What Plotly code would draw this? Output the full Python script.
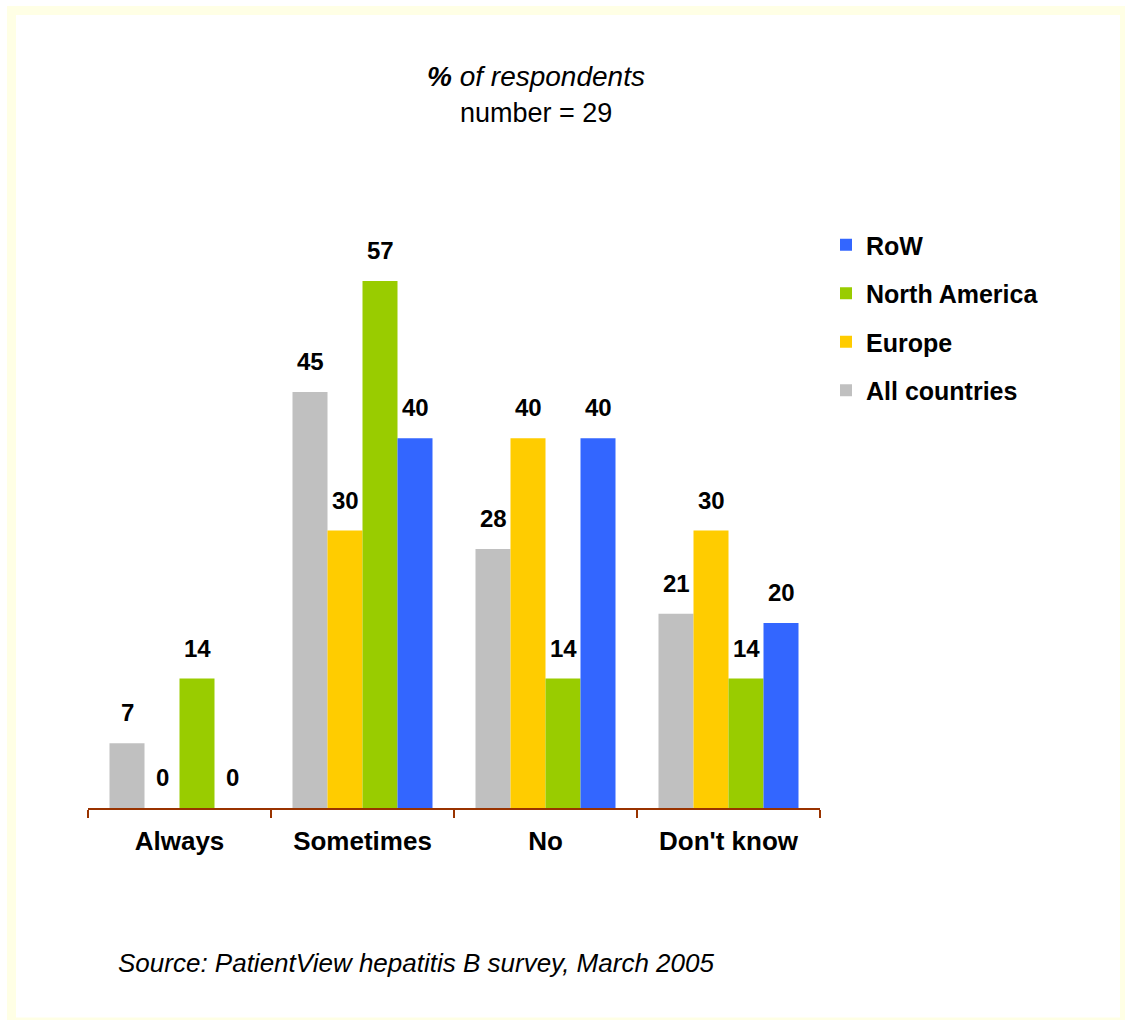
import plotly.graph_objects as go

categories = ["Always", "Sometimes", "No", "Don't know"]
series_names = ["All countries", "Europe", "North America", "RoW"]
all_countries = [7, 45, 28, 21]
europe = [0, 30, 40, 30]
north_america = [14, 57, 14, 14]
row = [0, 40, 40, 20]
series_values = [all_countries, europe, north_america, row]
colors = ["#C0C0C0", "#FFCC00", "#99CC00", "#3366FF"]

W, H = 1125, 1020
L, R, T, B = 88, 820, 150, 808
BARGAP = 0.235
YMAX = (B - T) / 9.246
FONT = "Liberation Sans, Arial, sans-serif"

def px(x):
    return (x - L) / (R - L)

def py(y):
    return (B - y) / (B - T)

fig = go.Figure()
nser = len(series_values)
for j, (name, vals, col) in enumerate(zip(series_names, series_values, colors)):
    fig.add_trace(go.Bar(
        x=categories, y=vals, name=f"<b>{name}</b>", marker=dict(color=col, line=dict(width=0)),
        legendgroup=name, legendrank=nser - j, hoverinfo="skip",
    ))

annotations = []
w = (1 - BARGAP) / nser
for j, vals in enumerate(series_values):
    for i, v in enumerate(vals):
        annotations.append(dict(
            x=i + (j - (nser - 1) / 2) * w, y=v, xref="x", yref="y",
            text=f"<b>{v}</b>", showarrow=False, yanchor="bottom", yshift=15,
            font=dict(family=FONT, size=24, color="black"),
        ))

annotations += [
    dict(x=px(536), y=py(76), xref="paper", yref="paper", showarrow=False,
         text="<b><i>%</i></b><i> of respondents</i>", xanchor="center", yanchor="middle",
         font=dict(family=FONT, size=28, color="black")),
    dict(x=px(536), y=py(113), xref="paper", yref="paper", showarrow=False,
         text="number = 29", xanchor="center", yanchor="middle",
         font=dict(family=FONT, size=27, color="black")),
    dict(x=px(116), y=py(963), xref="paper", yref="paper", showarrow=False,
         text="<i>Source: PatientView hepatitis B survey, March 2005</i>", xanchor="left", yanchor="middle",
         font=dict(family=FONT, size=26, color="black")),
]

shapes = [
    dict(type="rect", xref="paper", yref="paper",
         x0=px(11.5), x1=px(1124.5), y0=py(1022), y1=py(10.5),
         line=dict(color="#FFFFE5", width=9), fillcolor="rgba(0,0,0,0)", layer="below"),
]

fig.update_layout(
    width=W, height=H,
    margin=dict(l=L, r=W - R, t=T, b=H - B, pad=0),
    paper_bgcolor="white", plot_bgcolor="white",
    barmode="group", bargap=BARGAP, bargroupgap=0,
    font=dict(family=FONT, size=24, color="black"),
    xaxis=dict(
        type="category", showline=True, linecolor="#993300", linewidth=2,
        ticks="outside", tickson="boundaries", ticklen=8, tickcolor="#993300", tickwidth=2,
        ticklabelstandoff=9,
        tickfont=dict(family=FONT, size=26, color="black", weight="bold"),
        showgrid=False, zeroline=False, fixedrange=True,
    ),
    yaxis=dict(range=[0, YMAX], visible=False, showgrid=False, zeroline=False, fixedrange=True),
    legend=dict(
        x=px(826), y=py(222), xanchor="left", yanchor="top",
        traceorder="grouped", tracegroupgap=13,
        font=dict(family=FONT, size=25, color="black"),
        bgcolor="rgba(0,0,0,0)", itemclick=False, itemdoubleclick=False,
    ),
    annotations=annotations,
    shapes=shapes,
    showlegend=True,
)

fig.write_html("out.html")
